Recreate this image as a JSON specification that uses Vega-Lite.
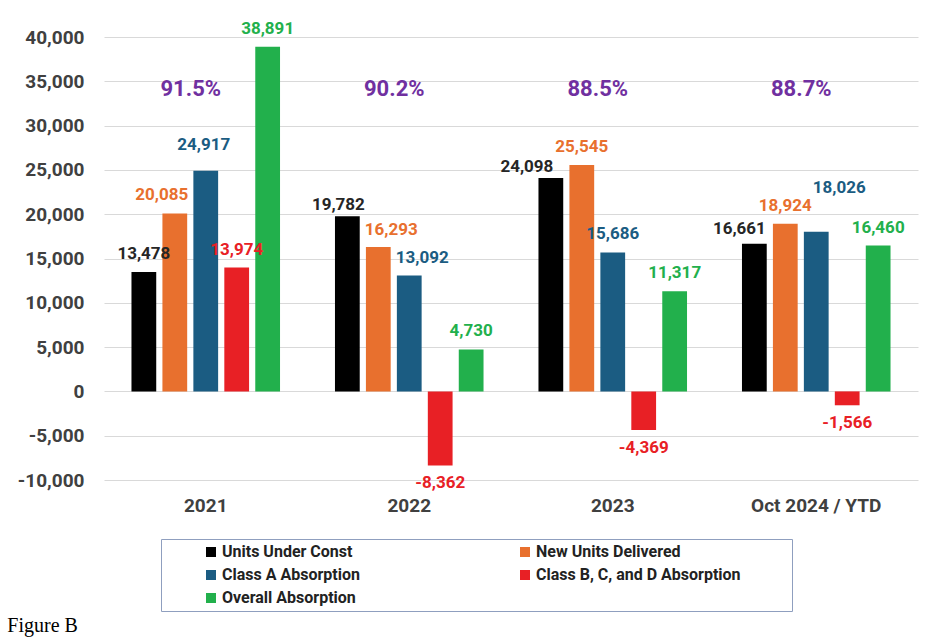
{
  "$schema": "https://vega.github.io/schema/vega-lite/v6.json",
  "width": 814,
  "height": 443,
  "autosize": {"type": "none"},
  "padding": {"left": 104, "top": 37, "right": 29, "bottom": 164},
  "background": "white",
  "config": {
    "view": {"stroke": null},
    "font": "Roboto",
    "locale": {"number": {"decimal": ".", "thousands": ",", "grouping": [3], "currency": ["$", ""], "minus": "-"}}
  },
  "title": {
    "text": "Figure B",
    "orient": "bottom",
    "anchor": "start",
    "font": "Liberation Serif",
    "fontSize": 20,
    "fontWeight": "normal",
    "color": "#000000",
    "dx": -10,
    "offset": 4
  },
  "datasets": {
    "bars": [
      {"year": "2021", "series": "Units Under Const", "value": 13478},
      {"year": "2021", "series": "New Units Delivered", "value": 20085},
      {"year": "2021", "series": "Class A Absorption", "value": 24917},
      {"year": "2021", "series": "Class B, C, and D Absorption", "value": 13974},
      {"year": "2021", "series": "Overall Absorption", "value": 38891},
      {"year": "2022", "series": "Units Under Const", "value": 19782},
      {"year": "2022", "series": "New Units Delivered", "value": 16293},
      {"year": "2022", "series": "Class A Absorption", "value": 13092},
      {"year": "2022", "series": "Class B, C, and D Absorption", "value": -8362},
      {"year": "2022", "series": "Overall Absorption", "value": 4730},
      {"year": "2023", "series": "Units Under Const", "value": 24098},
      {"year": "2023", "series": "New Units Delivered", "value": 25545},
      {"year": "2023", "series": "Class A Absorption", "value": 15686},
      {"year": "2023", "series": "Class B, C, and D Absorption", "value": -4369},
      {"year": "2023", "series": "Overall Absorption", "value": 11317},
      {"year": "Oct 2024 / YTD", "series": "Units Under Const", "value": 16661},
      {"year": "Oct 2024 / YTD", "series": "New Units Delivered", "value": 18924},
      {"year": "Oct 2024 / YTD", "series": "Class A Absorption", "value": 18026},
      {"year": "Oct 2024 / YTD", "series": "Class B, C, and D Absorption", "value": -1566},
      {"year": "Oct 2024 / YTD", "series": "Overall Absorption", "value": 16460}
    ],
    "pct": [
      {"year": "2021", "pct": "91.5%"},
      {"year": "2022", "pct": "90.2%"},
      {"year": "2023", "pct": "88.5%"},
      {"year": "Oct 2024 / YTD", "pct": "88.7%"}
    ]
  },
  "encoding": {
    "x": {
      "field": "year",
      "type": "nominal",
      "sort": null,
      "scale": {"paddingInner": 0.27, "paddingOuter": 0.135},
      "axis": {
        "title": null,
        "labelAngle": 0,
        "domain": false,
        "ticks": false,
        "labelPadding": 16,
        "labelFontSize": 19,
        "labelFontWeight": "bold",
        "labelColor": "#404040"
      }
    }
  },
  "layer": [
    {
      "data": {"name": "bars"},
      "mark": {"type": "bar"},
      "encoding": {
        "xOffset": {
          "field": "series",
          "type": "nominal",
          "scale": {
            "domain": ["Units Under Const", "New Units Delivered", "Class A Absorption", "Class B, C, and D Absorption", "Overall Absorption"],
            "paddingInner": 0.2,
            "paddingOuter": 0
          }
        },
        "y": {
          "field": "value",
          "type": "quantitative",
          "scale": {"domain": [-10000, 40000], "nice": false},
          "axis": {
            "title": null,
            "values": [-10000, -5000, 0, 5000, 10000, 15000, 20000, 25000, 30000, 35000, 40000],
            "labelExpr": "format(datum.value, ',d')",
            "grid": true,
            "gridColor": "#d9d9d9",
            "domain": false,
            "ticks": false,
            "labelPadding": 20,
            "labelFontSize": 19,
            "labelFontWeight": "bold",
            "labelColor": "#404040"
          }
        },
        "color": {
          "field": "series",
          "type": "nominal",
          "scale": {
            "domain": ["Units Under Const", "New Units Delivered", "Class A Absorption", "Class B, C, and D Absorption", "Overall Absorption"],
            "range": ["#000000", "#e8702e", "#1b5c82", "#e82025", "#22b04c"]
          },
          "legend": {
            "title": "\u00a0",
            "titleOrient": "right",
            "titleFontSize": 2,
            "titlePadding": 46,
            "orient": "none",
            "direction": "horizontal",
            "legendX": 57,
            "legendY": 502,
            "columns": 2,
            "columnPadding": 120,
            "rowPadding": 7,
            "padding": 5,
            "strokeColor": "#8f9fbf",
            "symbolType": "square",
            "symbolSize": 100,
            "symbolStrokeWidth": 0,
            "symbolOffset": 37,
            "labelOffset": 3,
            "labelFontSize": 16,
            "labelFontWeight": "bold",
            "labelColor": "#222222",
            "labelLimit": 400
          }
        }
      }
    },
    {
      "data": {"name": "bars"},
      "encoding": {
        "xOffset": {"field": "series", "type": "nominal"},
        "y": {"field": "value", "type": "quantitative"},
        "text": {"field": "value", "type": "quantitative", "format": ","},
        "color": {
          "condition": {"test": "datum.series === 'Units Under Const'", "value": "#262626"},
          "field": "series",
          "type": "nominal",
          "legend": null
        }
      },
      "layer": [
        {
          "transform": [{"filter": "datum.value >= 0 && indexof(['2021|New Units Delivered', '2021|Class A Absorption', '2022|Units Under Const', '2022|New Units Delivered', '2022|Class A Absorption', '2023|Units Under Const', 'Oct 2024 / YTD|Units Under Const', 'Oct 2024 / YTD|Class A Absorption'], datum.year + '|' + datum.series) < 0"}],
          "mark": {"type": "text", "dy": -18, "fontSize": 17, "fontWeight": "bold", "baseline": "middle"}
        },
        {
          "transform": [{"filter": "datum.year === '2021' && datum.series === 'New Units Delivered'"}],
          "mark": {"type": "text", "dx": -13, "dy": -18, "fontSize": 17, "fontWeight": "bold", "baseline": "middle"}
        },
        {
          "transform": [{"filter": "datum.year === '2021' && datum.series === 'Class A Absorption'"}],
          "mark": {"type": "text", "dx": -2, "dy": -26, "fontSize": 17, "fontWeight": "bold", "baseline": "middle"}
        },
        {
          "transform": [{"filter": "datum.year === '2022' && (datum.series === 'New Units Delivered' || datum.series === 'Class A Absorption')"}],
          "mark": {"type": "text", "dx": 13, "dy": -17, "fontSize": 17, "fontWeight": "bold", "baseline": "middle"}
        },
        {
          "transform": [{"filter": "datum.year === '2022' && datum.series === 'Units Under Const'"}],
          "mark": {"type": "text", "dx": -9, "dy": -11, "fontSize": 17, "fontWeight": "bold", "baseline": "middle"}
        },
        {
          "transform": [{"filter": "datum.year === '2023' && datum.series === 'Units Under Const'"}],
          "mark": {"type": "text", "dx": -24, "dy": -11, "fontSize": 17, "fontWeight": "bold", "baseline": "middle"}
        },
        {
          "transform": [{"filter": "datum.year === 'Oct 2024 / YTD' && datum.series === 'Units Under Const'"}],
          "mark": {"type": "text", "dx": -15, "dy": -15, "fontSize": 17, "fontWeight": "bold", "baseline": "middle"}
        },
        {
          "transform": [{"filter": "datum.year === 'Oct 2024 / YTD' && datum.series === 'Class A Absorption'"}],
          "mark": {"type": "text", "dx": 23, "dy": -44, "fontSize": 17, "fontWeight": "bold", "baseline": "middle"}
        },
        {
          "transform": [{"filter": "datum.value < 0"}],
          "mark": {"type": "text", "dy": 18, "fontSize": 17, "fontWeight": "bold", "baseline": "middle"}
        }
      ]
    },
    {
      "data": {"name": "pct"},
      "mark": {"type": "text", "dx": -15, "fontSize": 22, "fontWeight": "bold", "color": "#7030a0", "baseline": "middle"},
      "encoding": {
        "y": {"datum": 34100, "type": "quantitative"},
        "text": {"field": "pct", "type": "nominal"}
      }
    }
  ]
}
